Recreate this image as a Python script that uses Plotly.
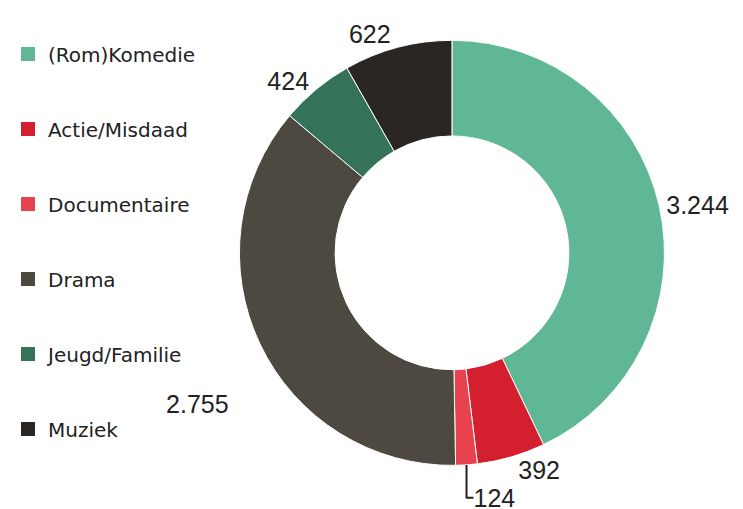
import plotly.graph_objects as go

genres = ["(Rom)Komedie", "Actie/Misdaad", "Documentaire", "Drama", "Jeugd/Familie", "Muziek"]
counts = [3244, 392, 124, 2755, 424, 622]
colors = ["#5fb795", "#d4202e", "#e8424e", "#4d4840", "#347259", "#2a2623"]

W, H = 743, 509

# Drama's value sits lower in the original, blank lines above push it down
templates = ["%{value:,}"] * len(genres)
templates[3] = "\u00a0<br>\u00a0<br>\u00a0<br>%{value:,}"

fig = go.Figure()

fig.add_trace(go.Pie(
    labels=genres,
    values=counts,
    hole=0.55,
    sort=False,
    direction="clockwise",
    rotation=0,
    marker=dict(colors=colors, line=dict(color="white", width=1)),
    textposition="outside",
    texttemplate=templates,
    textfont=dict(family="Liberation Sans, Arial", size=25, color="#222222"),
    domain=dict(x=[207 / W, 654 / W], y=[28 / H, 475 / H]),
    showlegend=False,
    hoverinfo="label+value+percent",
))

# legend entries, one group each so the gap between them can be widened
for g, c in zip(genres, colors):
    fig.add_trace(go.Scatter(
        x=[None], y=[None], mode="markers", name=g,
        legendgroup=g,
        marker=dict(symbol="square", size=14, color=c),
    ))

fig.update_layout(
    width=W, height=H,
    margin=dict(l=0, r=0, t=0, b=0),
    paper_bgcolor="white",
    plot_bgcolor="white",
    separators=",.",
    xaxis=dict(visible=False),
    yaxis=dict(visible=False),
    legend=dict(
        x=-0.045, y=0.945, xanchor="left", yanchor="top",
        bgcolor="rgba(0,0,0,0)",
        font=dict(family="DejaVu Sans", size=20, color="#222222"),
        tracegroupgap=46,
        itemwidth=30,
    ),
)

fig.write_html("out.html")
